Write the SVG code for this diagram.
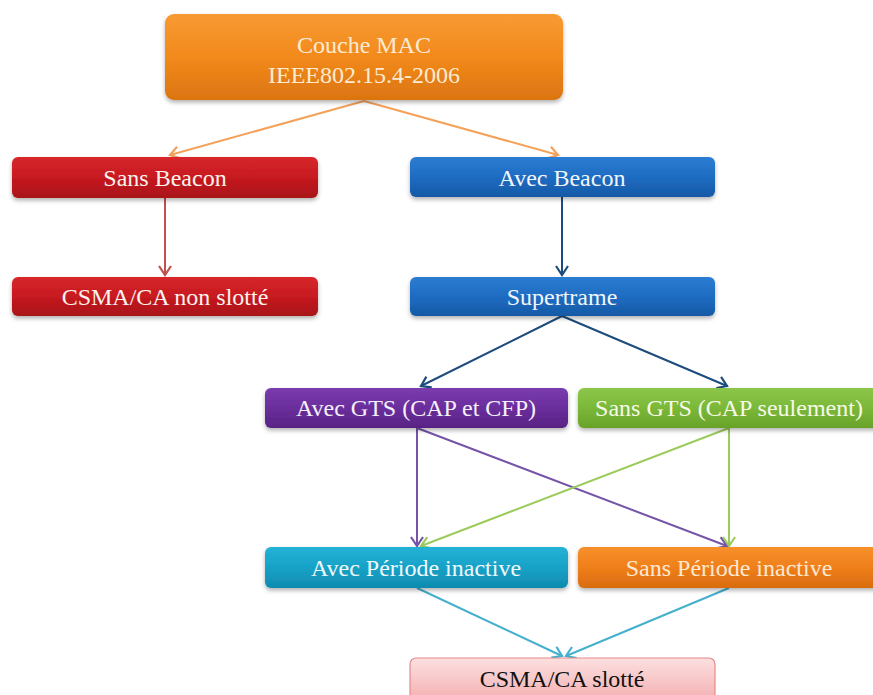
<svg xmlns="http://www.w3.org/2000/svg" width="873" height="695" viewBox="0 0 873 695">
<defs>
<style>
.lbl{font-family:'Liberation Serif','Times New Roman','DejaVu Serif',serif;font-size:24px;text-anchor:middle;fill:#FBF3EE}
.conn line{stroke-width:2;fill:none}
</style>
<filter id="sh" x="-5%" y="-20%" width="110%" height="150%">
<feDropShadow dx="0" dy="2.5" stdDeviation="2" flood-color="#000" flood-opacity="0.3"/>
</filter>
<linearGradient id="gOr" x1="0" y1="0" x2="0" y2="1"><stop offset="0" stop-color="#F89A33"/><stop offset="0.5" stop-color="#F28A1C"/><stop offset="1" stop-color="#DB7410"/></linearGradient>
<linearGradient id="gRd" x1="0" y1="0" x2="0" y2="1"><stop offset="0" stop-color="#D8272C"/><stop offset="0.5" stop-color="#C61A20"/><stop offset="1" stop-color="#A81218"/></linearGradient>
<linearGradient id="gBl" x1="0" y1="0" x2="0" y2="1"><stop offset="0" stop-color="#2C7DD2"/><stop offset="0.5" stop-color="#1E6CC2"/><stop offset="1" stop-color="#1659A6"/></linearGradient>
<linearGradient id="gPu" x1="0" y1="0" x2="0" y2="1"><stop offset="0" stop-color="#7A3CAE"/><stop offset="0.5" stop-color="#6A2E9C"/><stop offset="1" stop-color="#582384"/></linearGradient>
<linearGradient id="gGr" x1="0" y1="0" x2="0" y2="1"><stop offset="0" stop-color="#8CC64A"/><stop offset="0.5" stop-color="#7BB838"/><stop offset="1" stop-color="#68A22A"/></linearGradient>
<linearGradient id="gCy" x1="0" y1="0" x2="0" y2="1"><stop offset="0" stop-color="#24B2D6"/><stop offset="0.5" stop-color="#17A2C8"/><stop offset="1" stop-color="#0F8BAE"/></linearGradient>
<linearGradient id="gOr2" x1="0" y1="0" x2="0" y2="1"><stop offset="0" stop-color="#F7902C"/><stop offset="0.5" stop-color="#EF7F1A"/><stop offset="1" stop-color="#D86C0E"/></linearGradient>
<linearGradient id="gPk" x1="0" y1="0" x2="0" y2="1"><stop offset="0" stop-color="#FCE0E0"/><stop offset="1" stop-color="#F4B0B2"/></linearGradient>
<marker id="aOr" markerUnits="userSpaceOnUse" markerWidth="20" markerHeight="20" refX="0" refY="0" viewBox="-10 -10 20 20" orient="auto"><path d="M-9,-6 L0,0 L-9,6" fill="none" stroke="#F4A15A" stroke-width="2.2"/></marker>
<marker id="aRd" markerUnits="userSpaceOnUse" markerWidth="20" markerHeight="20" refX="0" refY="0" viewBox="-10 -10 20 20" orient="auto"><path d="M-9,-6 L0,0 L-9,6" fill="none" stroke="#C0504D" stroke-width="2.2"/></marker>
<marker id="aNv" markerUnits="userSpaceOnUse" markerWidth="20" markerHeight="20" refX="0" refY="0" viewBox="-10 -10 20 20" orient="auto"><path d="M-9,-6 L0,0 L-9,6" fill="none" stroke="#1C4C7C" stroke-width="2.2"/></marker>
<marker id="aPu" markerUnits="userSpaceOnUse" markerWidth="20" markerHeight="20" refX="0" refY="0" viewBox="-10 -10 20 20" orient="auto"><path d="M-9,-6 L0,0 L-9,6" fill="none" stroke="#7554A8" stroke-width="2.2"/></marker>
<marker id="aGr" markerUnits="userSpaceOnUse" markerWidth="20" markerHeight="20" refX="0" refY="0" viewBox="-10 -10 20 20" orient="auto"><path d="M-9,-6 L0,0 L-9,6" fill="none" stroke="#9BCB5B" stroke-width="2.2"/></marker>
<marker id="aCy" markerUnits="userSpaceOnUse" markerWidth="20" markerHeight="20" refX="0" refY="0" viewBox="-10 -10 20 20" orient="auto"><path d="M-9,-6 L0,0 L-9,6" fill="none" stroke="#45B0CE" stroke-width="2.2"/></marker>
</defs>
<rect width="873" height="695" fill="#FFFFFF"/>

<g id="connectors" class="conn">
<line x1="364" y1="101" x2="170" y2="155" stroke="#F4A15A" marker-end="url(#aOr)"/>
<line x1="364" y1="101" x2="558" y2="155" stroke="#F4A15A" marker-end="url(#aOr)"/>
<line x1="165" y1="198" x2="165" y2="275" stroke="#C0504D" marker-end="url(#aRd)"/>
<line x1="562" y1="197" x2="562" y2="275" stroke="#1C4C7C" marker-end="url(#aNv)"/>
<line x1="562" y1="316" x2="421" y2="386" stroke="#1C4C7C" marker-end="url(#aNv)"/>
<line x1="562" y1="316" x2="727" y2="386" stroke="#1C4C7C" marker-end="url(#aNv)"/>
<line x1="417" y1="428" x2="417" y2="546" stroke="#7554A8" marker-end="url(#aPu)"/>
<line x1="417" y1="428" x2="727" y2="546" stroke="#7554A8" marker-end="url(#aPu)"/>
<line x1="729" y1="428" x2="421" y2="546" stroke="#9BCB5B" marker-end="url(#aGr)"/>
<line x1="729" y1="428" x2="729" y2="546" stroke="#9BCB5B" marker-end="url(#aGr)"/>
<line x1="417" y1="588" x2="562" y2="656" stroke="#45B0CE" marker-end="url(#aCy)"/>
<line x1="729" y1="588" x2="566" y2="656" stroke="#45B0CE" marker-end="url(#aCy)"/>
</g>

<g id="couche-mac">
<rect x="165" y="14" width="398" height="86" rx="9" fill="url(#gOr)" filter="url(#sh)"/>
<text class="lbl" x="364" y="53" fill="#FCEBD3" style="fill:#FCEBD3">Couche MAC</text>
<text class="lbl" x="364" y="83" style="fill:#FCEBD3">IEEE802.15.4-2006</text>
</g>

<g id="sans-beacon">
<rect x="12" y="157" width="306" height="41" rx="6" fill="url(#gRd)" filter="url(#sh)"/>
<text class="lbl" x="165" y="186">Sans Beacon</text>
</g>

<g id="csma-non-slotte">
<rect x="12" y="277" width="306" height="39" rx="6" fill="url(#gRd)" filter="url(#sh)"/>
<text class="lbl" x="165" y="305">CSMA/CA non slotté</text>
</g>

<g id="avec-beacon">
<rect x="410" y="157" width="305" height="40" rx="6" fill="url(#gBl)" filter="url(#sh)"/>
<text class="lbl" x="562" y="186" style="fill:#F2F6FB">Avec Beacon</text>
</g>

<g id="supertrame">
<rect x="410" y="277" width="305" height="39" rx="6" fill="url(#gBl)" filter="url(#sh)"/>
<text class="lbl" x="562" y="305" style="fill:#F2F6FB">Supertrame</text>
</g>

<g id="avec-gts">
<rect x="265" y="388" width="303" height="40" rx="6" fill="url(#gPu)" filter="url(#sh)"/>
<text class="lbl" x="416" y="416" style="fill:#F6F0FA">Avec GTS (CAP et CFP)</text>
</g>

<g id="sans-gts">
<rect x="578" y="388" width="305" height="40" rx="6" fill="url(#gGr)" filter="url(#sh)"/>
<text class="lbl" x="729" y="416" style="fill:#F6FAE8">Sans GTS (CAP seulement)</text>
</g>

<g id="avec-periode">
<rect x="265" y="547" width="303" height="41" rx="6" fill="url(#gCy)" filter="url(#sh)"/>
<text class="lbl" x="416" y="576" style="fill:#F0FAFD">Avec Période inactive</text>
</g>

<g id="sans-periode">
<rect x="578" y="547" width="305" height="41" rx="6" fill="url(#gOr2)" filter="url(#sh)"/>
<text class="lbl" x="729" y="576" style="fill:#FDE8D2">Sans Période inactive</text>
</g>

<g id="csma-slotte">
<rect x="410" y="658" width="305" height="42" rx="6" fill="url(#gPk)" stroke="#E58A8C" stroke-width="1.2"/>
<text class="lbl" x="562" y="687" style="fill:#111111">CSMA/CA slotté</text>
</g>
</svg>
